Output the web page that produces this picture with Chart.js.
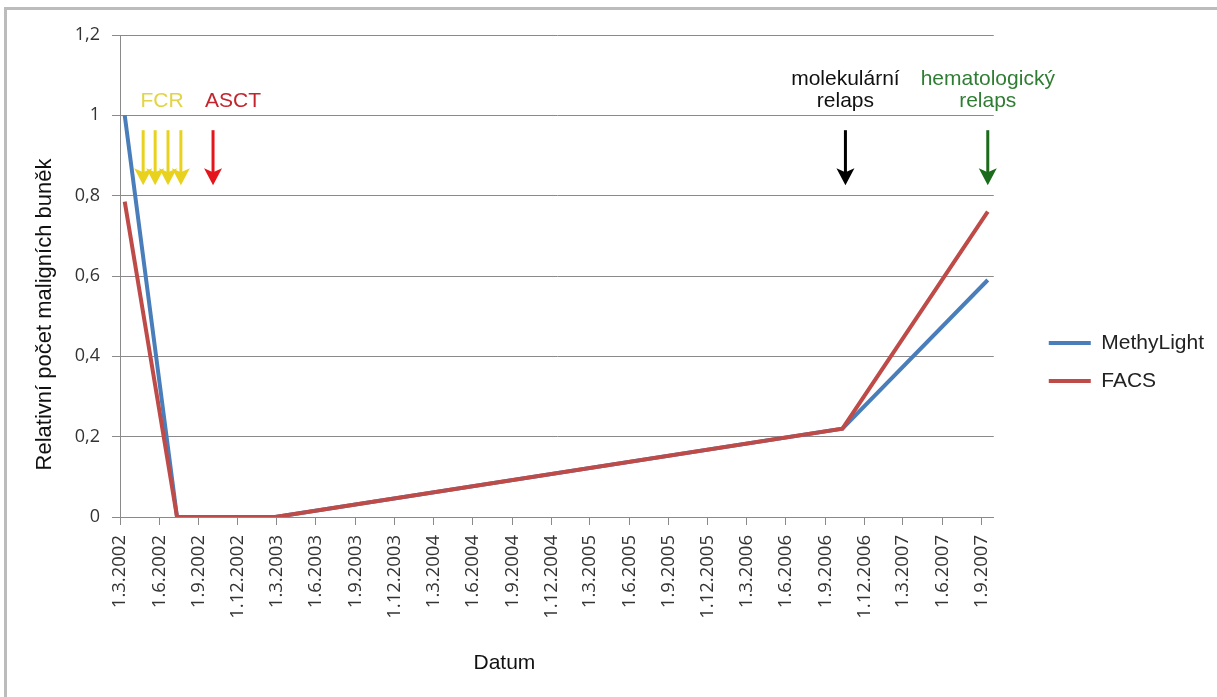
<!DOCTYPE html>
<html>
<head>
<meta charset="utf-8">
<script src="https://cdn.jsdelivr.net/npm/chart.js@4/dist/chart.umd.min.js"></script>
<style>
  html, body { margin: 0; padding: 0; background: #ffffff; }
  #frame { position: absolute; left: 4px; top: 7px; width: 1230px; height: 720px;
           border-top: 3px solid #bcbcbc; border-left: 3px solid #bcbcbc; }
  #wrap { position: absolute; left: 0; top: 0; width: 1217px; height: 697px; }
</style>
</head>
<body>
<div id="frame"></div>
<div id="wrap"><canvas id="c" width="1217" height="697"></canvas></div>
<script>
// ---- data ----
const sampleDates = ['12.3.2002', '12.7.2002', '26.2.2003', '11.10.2006', '15.9.2007'];
const methyLight  = [1.0, 0, 0, 0.22, 0.59];
const facs        = [0.785, 0, 0, 0.22, 0.76];
const seriesNames = ['MethyLight', 'FACS'];

const xTickLabels = ['1.3.2002','1.6.2002','1.9.2002','1.12.2002','1.3.2003','1.6.2003','1.9.2003','1.12.2003',
  '1.3.2004','1.6.2004','1.9.2004','1.12.2004','1.3.2005','1.6.2005','1.9.2005','1.12.2005',
  '1.3.2006','1.6.2006','1.9.2006','1.12.2006','1.3.2007','1.6.2007','1.9.2007'];
const xAxisEnd = '29.9.2007';
const yTickValues = [0, 0.2, 0.4, 0.6, 0.8, 1, 1.2];
const yTickLabels = ['0', '0,2', '0,4', '0,6', '0,8', '1', '1,2'];

const fcrDates   = ['24.4.2002', '22.5.2002', '21.6.2002', '21.7.2002'];
const fcrLabel   = 'FCR';
const asctDate   = '4.10.2002';
const asctLabel  = 'ASCT';
const molDate    = '18.10.2006';
const molLabel   = ['molekulární', 'relaps'];
const hemDate    = '15.9.2007';
const hemLabel   = ['hematologický', 'relaps'];

const xTitle = 'Datum';
const yTitle = 'Relativní počet maligních buněk';

// ---- helpers ----
function dayOf(s) { const [d, m, y] = s.split('.').map(Number); return Date.UTC(y, m - 1, d) / 864e5; }
const xTickDays = xTickLabels.map(dayOf);

const eventsPlugin = {
  id: 'events',
  afterDatasetsDraw(chart, args, opts) {
    const xs = chart.scales.x, ys = chart.scales.y, ctx = chart.ctx;
    const top = ys.getPixelForValue(opts.arrowTop);
    const tip = ys.getPixelForValue(opts.arrowTip);
    const textY = ys.getPixelForValue(opts.textValue);
    function arrow(x, color) {
      ctx.save();
      ctx.strokeStyle = color; ctx.fillStyle = color; ctx.lineWidth = 3;
      ctx.beginPath(); ctx.moveTo(x, top); ctx.lineTo(x, tip - 10); ctx.stroke();
      ctx.beginPath();
      ctx.moveTo(x, tip); ctx.lineTo(x - 9, tip - 17); ctx.lineTo(x, tip - 13); ctx.lineTo(x + 9, tip - 17);
      ctx.closePath(); ctx.fill();
      ctx.restore();
    }
    function text(lines, x, color, align) {
      ctx.save();
      ctx.font = '21px "Liberation Sans", Arial, sans-serif';
      ctx.fillStyle = color; ctx.textAlign = align; ctx.textBaseline = 'middle';
      lines.forEach((t, i) => ctx.fillText(t, x, textY - (lines.length - 1 - i) * 22));
      ctx.restore();
    }
    const fx = fcrDates.map(d => xs.getPixelForValue(dayOf(d)));
    fx.forEach(x => arrow(x, '#e8d21e'));
    text([fcrLabel], (fx[0] + fx[fx.length - 1]) / 2, '#e2d445', 'center');
    const ax = xs.getPixelForValue(dayOf(asctDate));
    arrow(ax, '#e4161c');
    text([asctLabel], ax - 8, '#c4242c', 'left');
    const mx = xs.getPixelForValue(dayOf(molDate));
    arrow(mx, '#000000');
    text(molLabel, mx, '#111111', 'center');
    const hx = xs.getPixelForValue(dayOf(hemDate));
    arrow(hx, '#1c6b1c');
    text(hemLabel, hx, '#2f7d32', 'center');
  }
};

const legendShift = {
  id: 'legendShift',
  afterLayout(chart) { if (chart.legend) { chart.legend.left += 38; chart.legend.right += 38; } }
};

const days = sampleDates.map(dayOf);
const gridColor = '#8a8a8a';

new Chart(document.getElementById('c'), {
  type: 'line',
  data: {
    datasets: [
      { label: seriesNames[0], data: days.map((d, i) => ({ x: d, y: methyLight[i] })),
        borderColor: '#4a7ebb', backgroundColor: '#4a7ebb', borderWidth: 4, pointRadius: 0, tension: 0, order: 1 },
      { label: seriesNames[1], data: days.map((d, i) => ({ x: d, y: facs[i] })),
        borderColor: '#be4b48', backgroundColor: '#be4b48', borderWidth: 4, pointRadius: 0, tension: 0, order: 0 }
    ]
  },
  options: {
    responsive: false,
    animation: false,
    devicePixelRatio: 1,
    layout: { padding: { left: 10, top: 35, right: 41, bottom: 8 } },
    plugins: {
      legend: {
        position: 'right',
        labels: {
          usePointStyle: true, pointStyle: 'line', pointStyleWidth: 42,
          padding: 17, color: '#222222',
          font: { family: '"Liberation Sans", Arial, sans-serif', size: 21 },
          sort: (a, b) => a.datasetIndex - b.datasetIndex
        }
      },
      tooltip: { enabled: false },
      events: { arrowTop: 0.963, arrowTip: 0.826, textValue: 1.036 }
    },
    scales: {
      x: {
        type: 'linear',
        min: xTickDays[0], max: dayOf(xAxisEnd),
        afterBuildTicks: s => { s.ticks = xTickDays.map(v => ({ value: v })); },
        afterFit: s => { s.height = 172; },
        ticks: {
          autoSkip: false, minRotation: 90, maxRotation: 90, padding: 10, color: '#333333',
          font: { family: '"Open Sans", sans-serif', size: 18.5 },
          callback: (v, i) => xTickLabels[i]
        },
        grid: { drawOnChartArea: false, drawTicks: true, tickLength: 8, color: gridColor },
        border: { color: gridColor, width: 1 },
        title: {
          display: true, text: xTitle + '\u2003\u2003\u2003\u2003\u2003', color: '#111111',
          font: { family: '"Liberation Sans", Arial, sans-serif', size: 21 },
          padding: { top: 0, bottom: 13 }
        }
      },
      y: {
        min: 0, max: 1.2,
        afterBuildTicks: s => { s.ticks = yTickValues.map(v => ({ value: v })); },
        afterFit: s => { s.width = 110; },
        ticks: {
          padding: 12, color: '#333333',
          font: { family: '"Open Sans", sans-serif', size: 18 },
          callback: (v, i) => yTickLabels[i]
        },
        grid: { color: gridColor, tickLength: 8, lineWidth: 1 },
        border: { color: gridColor, width: 1 },
        title: {
          display: true, text: yTitle + '\u2003\u2003\u2003\u2002', color: '#111111',
          font: { family: '"Liberation Sans", Arial, sans-serif', size: 22 },
          padding: { top: 22, bottom: 0 }
        }
      }
    }
  },
  plugins: [eventsPlugin, legendShift]
});
</script>
</body>
</html>
